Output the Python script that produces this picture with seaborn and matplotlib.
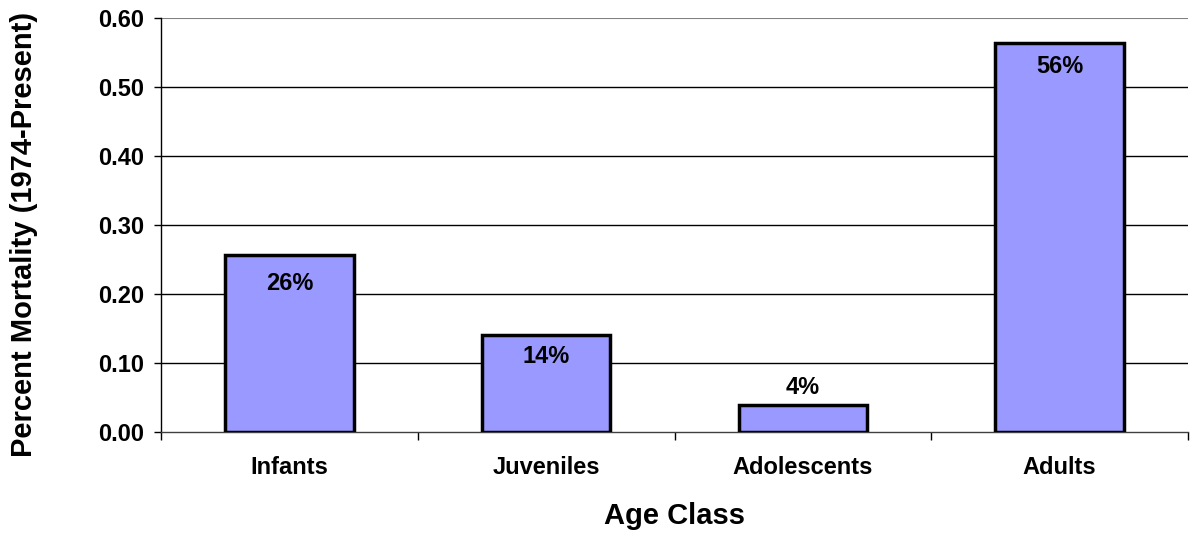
import matplotlib
matplotlib.use("Agg")
import matplotlib.pyplot as plt
import seaborn as sns
import pandas as pd

categories = ["Infants", "Juveniles", "Adolescents", "Adults"]
values = [0.257, 0.141, 0.039, 0.564]
labels = ["26%", "14%", "4%", "56%"]

sns.set_theme(style="white")
plt.rcParams['font.family'] = ['Liberation Sans', 'DejaVu Sans']
plt.rcParams['font.weight'] = 'bold'
plt.rcParams['text.color'] = 'black'
plt.rcParams['axes.labelcolor'] = 'black'
plt.rcParams['xtick.color'] = 'black'
plt.rcParams['ytick.color'] = 'black'

df = pd.DataFrame({"cat": categories, "val": values})

fig = plt.figure(figsize=(11.91, 5.35), dpi=100)
ax = fig.add_axes([161/1191, (535-432)/535, (1188-161)/1191, (432-18)/535])

sns.barplot(data=df, x="cat", y="val", ax=ax, color="#9999FF", saturation=1,
            edgecolor="black", linewidth=2.5, width=0.5, zorder=3)

ticks = [0.0, 0.1, 0.2, 0.3, 0.4, 0.5, 0.6]
ax.set_ylim(0, 0.6)
ax.set_xlim(-0.5, 3.5)
ax.set_yticks(ticks)
ax.set_yticklabels([f"{v:.2f}" for v in ticks], fontsize=17, fontweight='bold')
ax.set_xticks(range(len(categories)))
ax.set_xticklabels(categories, fontsize=17, fontweight='bold')
ax.tick_params(axis='x', length=0, pad=17)
ax.tick_params(axis='y', length=5, width=1, color='black', left=True, pad=7, direction='out')

# minor ticks at category boundaries
ax.set_xticks([-0.5, 0.5, 1.5, 2.5, 3.5], minor=True)
ax.tick_params(axis='x', which='minor', length=6, width=1, color='black', bottom=True, direction='out')

for y in [0.1, 0.2, 0.3, 0.4, 0.5]:
    ax.axhline(y, color='black', linewidth=1, zorder=1)
ax.axhline(0.6, color='#808080', linewidth=1.5, zorder=1)

for s in ['top', 'right']:
    ax.spines[s].set_visible(False)
ax.spines['left'].set_color('black')
ax.spines['left'].set_linewidth(1)
ax.spines['bottom'].set_color('#404040')
ax.spines['bottom'].set_linewidth(1)

offsets = {0: -21, 1: -16, 2: 13, 3: -17}
for i, (v, lab) in enumerate(zip(values, labels)):
    ax.annotate(lab, (i, v), xytext=(0, offsets[i]), textcoords='offset points',
                ha='center', va='center', fontsize=17, fontweight='bold', zorder=5)

ax.set_xlabel("Age Class", fontsize=21, fontweight='bold', labelpad=17)
ax.set_ylabel("Percent Mortality (1974-Present)", fontsize=21, fontweight='bold')
ax.yaxis.set_label_coords((38 - 161) / 1027, (432 - 234) / 414)

fig.savefig("out.png", dpi=100)
